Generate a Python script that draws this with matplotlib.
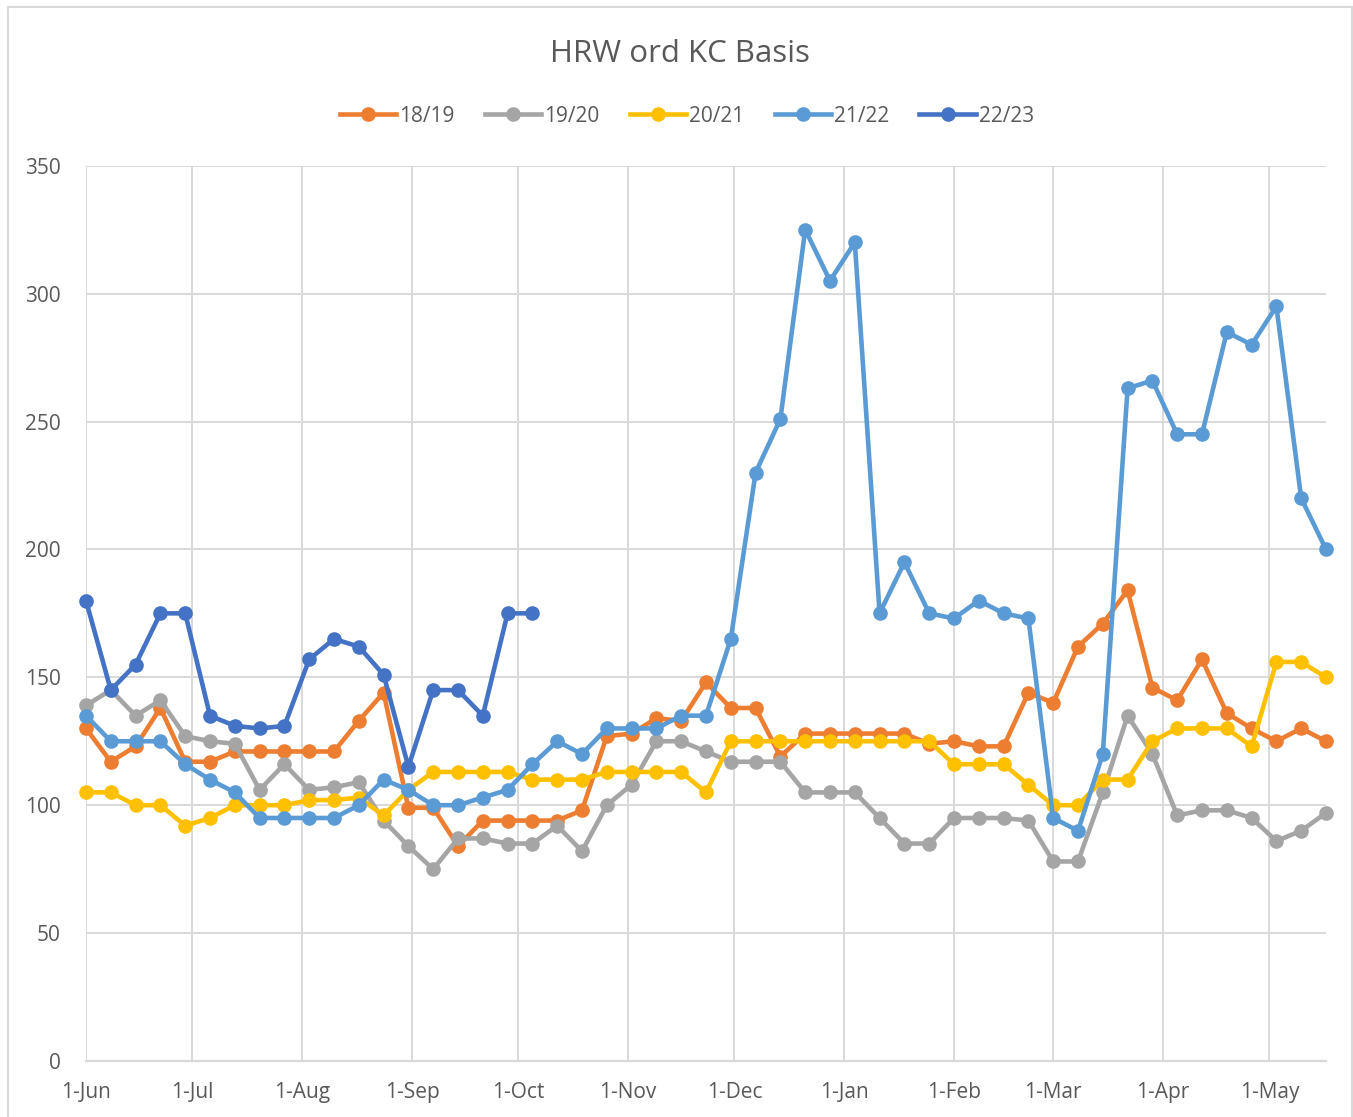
import pandas as pd
import matplotlib
matplotlib.use("Agg")
import matplotlib.pyplot as plt
from matplotlib.patches import Rectangle

# weekly basis readings, one season per list (Jun -> May)
weeks = pd.date_range("2021-06-01", periods=51, freq="7D")

basis_1819 = [130, 117, 123, 138, 117, 117, 121, 121, 121, 121, 121, 133, 144,
              99, 99, 84, 94, 94, 94, 94, 98, 127, 128, 134, 133, 148, 138, 138,
              119, 128, 128, 128, 128, 128, 124, 125, 123, 123, 144, 140, 162,
              171, 184, 146, 141, 157, 136, 130, 125, 130, 125]
basis_1920 = [139, 145, 135, 141, 127, 125, 124, 106, 116, 106, 107, 109, 94,
              84, 75, 87, 87, 85, 85, 92, 82, 100, 108, 125, 125, 121, 117, 117,
              117, 105, 105, 105, 95, 85, 85, 95, 95, 95, 94, 78, 78, 105, 135,
              120, 96, 98, 98, 95, 86, 90, 97]
basis_2021 = [105, 105, 100, 100, 92, 95, 100, 100, 100, 102, 102, 103, 96,
              106, 113, 113, 113, 113, 110, 110, 110, 113, 113, 113, 113, 105,
              125, 125, 125, 125, 125, 125, 125, 125, 125, 116, 116, 116, 108,
              100, 100, 110, 110, 125, 130, 130, 130, 123, 156, 156, 150]
basis_2122 = [135, 125, 125, 125, 116, 110, 105, 95, 95, 95, 95, 100, 110,
              106, 100, 100, 103, 106, 116, 125, 120, 130, 130, 130, 135, 135,
              165, 230, 251, 325, 305, 320, 175, 195, 175, 173, 180, 175, 173,
              95, 90, 120, 263, 266, 245, 245, 285, 280, 295, 220, 200]
basis_2223 = [180, 145, 155, 175, 175, 135, 131, 130, 131, 157, 165, 162, 151,
              115, 145, 145, 135, 175, 175]

seasons = ["18/19", "19/20", "20/21", "21/22", "22/23"]
colors = ["#ED7D31", "#A5A5A5", "#FFC000", "#5B9BD5", "#4472C4"]
series = [basis_1819, basis_1920, basis_2021, basis_2122, basis_2223]

month_ticks = pd.date_range("2021-06-01", "2022-05-01", freq="MS")
month_labels = [d.strftime("1-%b") for d in month_ticks]

txt = "#595959"
grid = "#D9D9D9"
plt.rcParams["font.family"] = ["Open Sans", "DejaVu Sans"]

W, H = 1353, 1117
fig = plt.figure(figsize=(W / 100, H / 100), dpi=100)
ax = fig.add_axes([86 / W, 1 - 1061 / H, (1326 - 86) / W, (1061 - 165.7) / H])

for name, vals, c in zip(seasons, series, colors):
    ax.plot(weeks[:len(vals)], vals, color=c, lw=3.3, marker="o", ms=9.5,
            label=name, solid_joinstyle="round", clip_on=False)

ax.set_ylim(0, 350)
ax.set_xlim(weeks[0], weeks[-1])
ax.set_yticks(range(0, 351, 50))
ax.set_xticks(month_ticks)
ax.set_xticklabels(month_labels)

ax.grid(True, color=grid, lw=1.4)
ax.set_axisbelow(True)
for s in ["top", "right", "left"]:
    ax.spines[s].set_visible(False)
ax.spines["bottom"].set_color(grid)
ax.spines["bottom"].set_linewidth(1.6)
ax.tick_params(axis="both", length=0, labelsize=15, colors=txt)
ax.tick_params(axis="y", pad=18)
ax.tick_params(axis="x", pad=15)

fig.text(680 / W, 1 - 54 / H, "HRW ord KC Basis", ha="center", va="center",
         fontsize=22.5, color=txt)
fig.legend(loc="center", bbox_to_anchor=(687 / W, 1 - 116 / H), ncol=5,
           frameon=False, fontsize=15, labelcolor=txt, handlelength=2.7,
           handletextpad=0.15, columnspacing=1.45)

# chart area border
fig.add_artist(Rectangle((8 / W, -0.05), (1352 - 8) / W, 1.05 - 7 / H,
                         transform=fig.transFigure, fill=False,
                         edgecolor=grid, lw=1.5))

fig.savefig("out.png", dpi=100)
